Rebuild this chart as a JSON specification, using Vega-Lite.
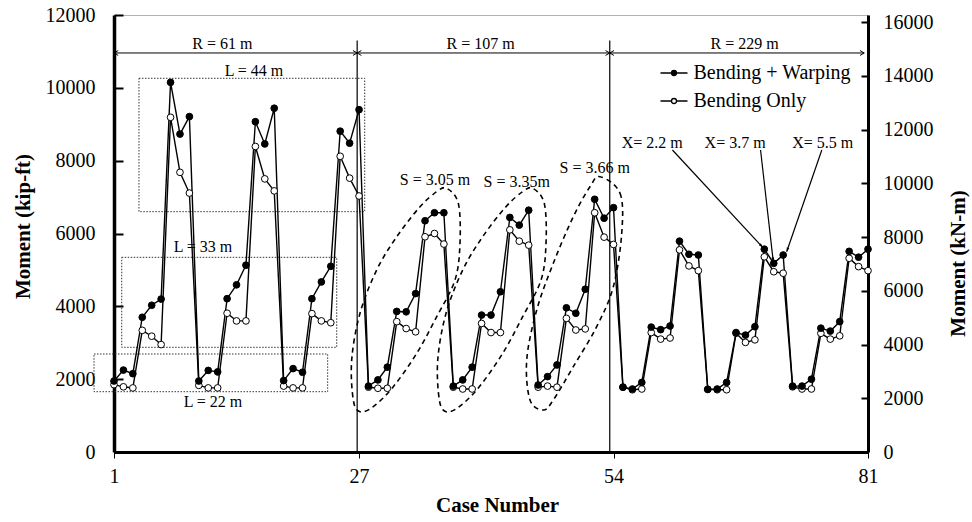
{
  "$schema": "https://vega.github.io/schema/vega-lite/v6.json",
  "width": 754,
  "height": 437,
  "autosize": {"type": "none"},
  "padding": {"left": 114, "top": 15, "right": 104, "bottom": 70},
  "background": "white",
  "config": {
    "view": {"stroke": "#666", "strokeDash": [1, 1], "strokeWidth": 1},
    "font": "Liberation Serif",
    "axis": {"labelColor": "black", "titleColor": "black", "domainColor": "black", "tickColor": "black", "grid": false, "labelFont": "Liberation Serif", "titleFont": "Liberation Serif"},
    "text": {"font": "Liberation Serif"}
  },
  "datasets": {
    "series": [
      {"x":1,"bw":1950,"bo":1850},{"x":2,"bw":2250,"bo":1790},{"x":3,"bw":2150,"bo":1760},
      {"x":4,"bw":3700,"bo":3340},{"x":5,"bw":4030,"bo":3180},{"x":6,"bw":4200,"bo":2950},
      {"x":7,"bw":10150,"bo":9190},{"x":8,"bw":8730,"bo":7680},{"x":9,"bw":9210,"bo":7110},
      {"x":10,"bw":1950,"bo":1830},{"x":11,"bw":2240,"bo":1760},{"x":12,"bw":2200,"bo":1760},
      {"x":13,"bw":4210,"bo":3810},{"x":14,"bw":4590,"bo":3600},{"x":15,"bw":5130,"bo":3600},
      {"x":16,"bw":9070,"bo":8390},{"x":17,"bw":8460,"bo":7500},{"x":18,"bw":9440,"bo":7170},
      {"x":19,"bw":1960,"bo":1810},{"x":20,"bw":2290,"bo":1760},{"x":21,"bw":2190,"bo":1760},
      {"x":22,"bw":4210,"bo":3800},{"x":23,"bw":4670,"bo":3600},{"x":24,"bw":5100,"bo":3550},
      {"x":25,"bw":8810,"bo":8120},{"x":26,"bw":8480,"bo":7520},{"x":27,"bw":9400,"bo":7030},
      {"x":28,"bw":1810,"bo":1780},{"x":29,"bw":1980,"bo":1750},{"x":30,"bw":2330,"bo":1750},
      {"x":31,"bw":3860,"bo":3580},{"x":32,"bw":3850,"bo":3390},{"x":33,"bw":4350,"bo":3300},
      {"x":34,"bw":6350,"bo":5910},{"x":35,"bw":6570,"bo":6000},{"x":36,"bw":6570,"bo":5710},
      {"x":37,"bw":1810,"bo":1780},{"x":38,"bw":1980,"bo":1730},{"x":39,"bw":2330,"bo":1730},
      {"x":40,"bw":3760,"bo":3530},{"x":41,"bw":3760,"bo":3280},{"x":42,"bw":4400,"bo":3280},
      {"x":43,"bw":6440,"bo":6100},{"x":44,"bw":6230,"bo":5790},{"x":45,"bw":6640,"bo":5680},
      {"x":46,"bw":1840,"bo":1780},{"x":47,"bw":2070,"bo":1810},{"x":48,"bw":2390,"bo":1780},
      {"x":49,"bw":3960,"bo":3670},{"x":50,"bw":3810,"bo":3350},{"x":51,"bw":4470,"bo":3380},
      {"x":52,"bw":6940,"bo":6570},{"x":53,"bw":6420,"bo":5900},{"x":54,"bw":6710,"bo":5700},
      {"x":55,"bw":1780,"bo":1780},{"x":56,"bw":1730,"bo":1710},{"x":57,"bw":1910,"bo":1730},
      {"x":58,"bw":3430,"bo":3280},{"x":59,"bw":3360,"bo":3100},{"x":60,"bw":3460,"bo":3130},
      {"x":61,"bw":5790,"bo":5550},{"x":62,"bw":5430,"bo":5110},{"x":63,"bw":5410,"bo":4980},
      {"x":64,"bw":1720,"bo":1720},{"x":65,"bw":1730,"bo":1710},{"x":66,"bw":1910,"bo":1710},
      {"x":67,"bw":3280,"bo":3260},{"x":68,"bw":3210,"bo":3010},{"x":69,"bw":3440,"bo":3080},
      {"x":70,"bw":5570,"bo":5360},{"x":71,"bw":5180,"bo":4950},{"x":72,"bw":5410,"bo":4910},
      {"x":73,"bw":1810,"bo":1790},{"x":74,"bw":1810,"bo":1730},{"x":75,"bw":2000,"bo":1730},
      {"x":76,"bw":3400,"bo":3260},{"x":77,"bw":3320,"bo":3100},{"x":78,"bw":3580,"bo":3190},
      {"x":79,"bw":5510,"bo":5320},{"x":80,"bw":5350,"bo":5090},{"x":81,"bw":5570,"bo":4980}
    ],
    "ellipses": [
      {"id":1,"i":0,"x":36.30,"y":7241},{"id":1,"i":1,"x":37.53,"y":6829},{"id":1,"i":2,"x":37.71,"y":5739},
      {"id":1,"i":3,"x":37.18,"y":4723},{"id":1,"i":4,"x":35.24,"y":3715},{"id":1,"i":5,"x":33.12,"y":2710},
      {"id":1,"i":6,"x":30.63,"y":1793},{"id":1,"i":7,"x":28.51,"y":1244},{"id":1,"i":8,"x":27.10,"y":1107},
      {"id":1,"i":9,"x":26.39,"y":1428},{"id":1,"i":10,"x":26.22,"y":2526},{"id":1,"i":11,"x":27.10,"y":3809},
      {"id":1,"i":12,"x":28.87,"y":4998},{"id":1,"i":13,"x":31.00,"y":5912},{"id":1,"i":14,"x":33.47,"y":6736},
      {"id":1,"i":15,"x":35.24,"y":7148},
      {"id":2,"i":0,"x":45.42,"y":7241},{"id":2,"i":1,"x":46.65,"y":6829},{"id":2,"i":2,"x":46.84,"y":5739},
      {"id":2,"i":3,"x":46.31,"y":4723},{"id":2,"i":4,"x":44.36,"y":3715},{"id":2,"i":5,"x":42.24,"y":2710},
      {"id":2,"i":6,"x":39.76,"y":1793},{"id":2,"i":7,"x":37.64,"y":1244},{"id":2,"i":8,"x":36.23,"y":1107},
      {"id":2,"i":9,"x":35.52,"y":1428},{"id":2,"i":10,"x":35.35,"y":2526},{"id":2,"i":11,"x":36.23,"y":3809},
      {"id":2,"i":12,"x":38.00,"y":4998},{"id":2,"i":13,"x":40.12,"y":5912},{"id":2,"i":14,"x":42.59,"y":6736},
      {"id":2,"i":15,"x":44.36,"y":7148},
      {"id":3,"i":0,"x":52.57,"y":7560},{"id":3,"i":1,"x":54.69,"y":7104},{"id":3,"i":2,"x":54.87,"y":6006},
      {"id":3,"i":3,"x":53.98,"y":4539},{"id":3,"i":4,"x":52.21,"y":3441},{"id":3,"i":5,"x":49.73,"y":2342},
      {"id":3,"i":6,"x":47.61,"y":1428},{"id":3,"i":7,"x":46.55,"y":1153},{"id":3,"i":8,"x":45.14,"y":1428},
      {"id":3,"i":9,"x":44.79,"y":2526},{"id":3,"i":10,"x":45.85,"y":3899},{"id":3,"i":11,"x":47.61,"y":5182},
      {"id":3,"i":12,"x":49.73,"y":6461},{"id":3,"i":13,"x":51.50,"y":7285}
    ],
    "boxes": [
      {"x":3.65,"x2":27.6,"y":6599,"y2":10262},
      {"x":1.82,"x2":24.63,"y":2875,"y2":5346},
      {"x":-1.12,"x2":23.67,"y":1656,"y2":2691}
    ],
    "vlines": [
      {"x":26.8,"y":0,"y2":11300},
      {"x":53.6,"y":0,"y2":11300}
    ],
    "rarrows": [
      {"x":1,"x2":26.8,"y":10957},
      {"x":26.8,"x2":53.6,"y":10957},
      {"x":53.6,"x2":80.6,"y":10957}
    ],
    "rheads": [
      {"d":"L","x":1,"y":10957},{"d":"R","x":26.8,"y":10957},
      {"d":"L","x":26.8,"y":10957},{"d":"R","x":53.6,"y":10957},
      {"d":"L","x":53.6,"y":10957},{"d":"R","x":80.6,"y":10957}
    ],
    "xarrows": [
      {"k":1,"x":60.25,"y":8293,"x2":69.83,"y2":5621},
      {"k":2,"x":69.60,"y":8293,"x2":70.95,"y2":5226},
      {"k":3,"x":76.10,"y":8293,"x2":72.37,"y2":5500}
    ],
    "xheads": [
      {"k":1,"x":69.83,"y":5621},
      {"k":2,"x":70.95,"y":5226},
      {"k":3,"x":72.37,"y":5500}
    ],
    "labels": [
      {"x":12.5,"y":11204,"t":"R = 61 m"},
      {"x":39.9,"y":11204,"t":"R = 107 m"},
      {"x":67.9,"y":11204,"t":"R = 229 m"},
      {"x":15.85,"y":10462,"t":"L = 44 m"},
      {"x":10.44,"y":5629,"t":"L = 33 m"},
      {"x":11.5,"y":1373,"t":"L = 22 m"},
      {"x":35.06,"y":7469,"t":"S = 3.05 m"},
      {"x":43.73,"y":7423,"t":"S = 3.35m"},
      {"x":52.0,"y":7799,"t":"S = 3.66 m"},
      {"x":58.1,"y":8485,"t":"X= 2.2 m"},
      {"x":66.9,"y":8485,"t":"X= 3.7 m"},
      {"x":76.2,"y":8485,"t":"X= 5.5 m"}
    ]
  },
  "layer": [
    {
      "encoding": {
        "x": {
          "field": "x", "type": "quantitative",
          "scale": {"domain": [1, 81], "nice": false, "zero": false},
          "axis": {
            "orient": "bottom", "values": [1, 27, 54, 81], "format": "d", "title": "Case Number",
            "domainWidth": 3, "tickSize": 6, "tickWidth": 1, "labelFlush": false,
            "labelFontSize": 20, "labelPadding": 8,
            "titleFontSize": 21, "titleFontWeight": "bold", "titleX": 383, "titleY": 53,
            "titleBaseline": "middle", "titleAlign": "center"
          }
        },
        "y": {
          "field": "y", "type": "quantitative",
          "scale": {"domain": [0, 12000], "nice": false},
          "axis": {
            "orient": "left", "values": [0, 2000, 4000, 6000, 8000, 10000, 12000], "format": "d",
            "title": "Moment (kip-ft)", "domainWidth": 3.5, "tickSize": -9, "tickWidth": 2,
            "labelFontSize": 20, "labelPadding": 28, "labelFlush": false,
            "titleFontSize": 21, "titleFontWeight": "bold", "titleAngle": -90,
            "titleX": -91, "titleY": 211, "titleBaseline": "middle", "titleAlign": "center"
          }
        }
      },
      "layer": [
        {
          "data": {"name": "ellipses"},
          "mark": {"type": "line", "interpolate": "cardinal-closed", "color": "black", "strokeWidth": 1.6, "strokeDash": [5, 4]},
          "encoding": {"detail": {"field": "id"}, "order": {"field": "i", "type": "quantitative"}}
        },
        {
          "data": {"name": "boxes"},
          "mark": {"type": "rect", "fill": "transparent", "stroke": "#333", "strokeWidth": 1, "strokeDash": [1.5, 1.5]},
          "encoding": {"x2": {"field": "x2"}, "y2": {"field": "y2"}}
        },
        {
          "data": {"name": "vlines"},
          "mark": {"type": "rule", "color": "black", "strokeWidth": 1.2},
          "encoding": {"y2": {"field": "y2"}}
        },
        {
          "data": {"name": "rarrows"},
          "mark": {"type": "rule", "color": "black", "strokeWidth": 1},
          "encoding": {"x2": {"field": "x2"}}
        },
        {
          "data": {"name": "rheads"},
          "transform": [{"filter": "datum.d == 'L'"}],
          "mark": {"type": "point", "shape": "M1.2,-0.7L0,0L1.2,0.7", "size": 49, "filled": false, "stroke": "black", "strokeWidth": 1, "opacity": 1}
        },
        {
          "data": {"name": "rheads"},
          "transform": [{"filter": "datum.d == 'R'"}],
          "mark": {"type": "point", "shape": "M-1.2,-0.7L0,0L-1.2,0.7", "size": 49, "filled": false, "stroke": "black", "strokeWidth": 1, "opacity": 1}
        },
        {
          "data": {"name": "xarrows"},
          "mark": {"type": "rule", "color": "black", "strokeWidth": 1.2},
          "encoding": {"x2": {"field": "x2"}, "y2": {"field": "y2"}}
        },
        {
          "data": {"name": "xheads"},
          "transform": [{"filter": "datum.k == 1"}],
          "mark": {"type": "point", "shape": "M0,0L-0.45,1.4L0.45,1.4Z", "size": 36, "filled": true, "color": "black", "opacity": 1, "angle": 137}
        },
        {
          "data": {"name": "xheads"},
          "transform": [{"filter": "datum.k == 2"}],
          "mark": {"type": "point", "shape": "M0,0L-0.45,1.4L0.45,1.4Z", "size": 36, "filled": true, "color": "black", "opacity": 1, "angle": 173.5}
        },
        {
          "data": {"name": "xheads"},
          "transform": [{"filter": "datum.k == 3"}],
          "mark": {"type": "point", "shape": "M0,0L-0.45,1.4L0.45,1.4Z", "size": 36, "filled": true, "color": "black", "opacity": 1, "angle": 199}
        },
        {
          "data": {"name": "series"},
          "transform": [{"fold": ["bo", "bw"], "as": ["s", "y"]}],
          "layer": [
            {
              "mark": {"type": "line", "color": "black", "strokeWidth": 1.4},
              "encoding": {"detail": {"field": "s"}}
            },
            {
              "mark": {"type": "point", "filled": true, "size": 45, "stroke": "black", "strokeWidth": 1, "opacity": 1},
              "encoding": {
                "fill": {
                  "field": "s", "type": "nominal",
                  "scale": {"domain": ["bw", "bo"], "range": ["black", "white"]},
                  "legend": {
                    "orient": "none", "legendX": 545.5, "legendY": 43.5, "title": null, "padding": 0,
                    "symbolType": "M0.185,0C0.185,0.1022,0.1022,0.185,0,0.185C-0.1022,0.185,-0.185,0.1022,-0.185,0C-0.185,-0.1022,-0.1022,-0.185,0,-0.185C0.1022,-0.185,0.185,-0.1022,0.185,0ZM-1,0L-0.185,0M0.185,0L1,0",
                    "symbolSize": 729, "symbolStrokeColor": "black", "symbolStrokeWidth": 1.3,
                    "labelFont": "Liberation Serif", "labelFontSize": 20, "labelColor": "black",
                    "labelOffset": 5, "rowPadding": 3, "labelLimit": 300,
                    "labelExpr": "datum.label == 'bw' ? 'Bending + Warping' : 'Bending Only'",
                    "encode": {"symbols": {"update": {"stroke": {"value": "black"}, "strokeWidth": {"value": 1.3}}}}
                  }
                }
              }
            }
          ]
        },
        {
          "data": {"name": "labels"},
          "mark": {"type": "text", "fontSize": 16, "color": "black", "align": "center", "baseline": "middle", "font": "Liberation Serif"},
          "encoding": {"text": {"field": "t"}}
        }
      ]
    },
    {
      "data": {"values": [{"kn": 0}, {"kn": 16000}]},
      "mark": {"type": "point", "opacity": 0},
      "encoding": {
        "y": {
          "field": "kn", "type": "quantitative",
          "scale": {"domain": [0, 16270], "nice": false},
          "axis": {
            "orient": "right", "values": [0, 2000, 4000, 6000, 8000, 10000, 12000, 14000, 16000], "format": "d",
            "title": "Moment (kN-m)", "domainWidth": 3, "tickSize": -7, "tickWidth": 2,
            "labelFontSize": 20, "labelPadding": 22, "labelFlush": false,
            "titleFontSize": 21, "titleFontWeight": "bold", "titleAngle": -90,
            "titleX": 90, "titleY": 248, "titleBaseline": "middle", "titleAlign": "center"
          }
        }
      }
    }
  ],
  "resolve": {"scale": {"y": "independent"}}
}
